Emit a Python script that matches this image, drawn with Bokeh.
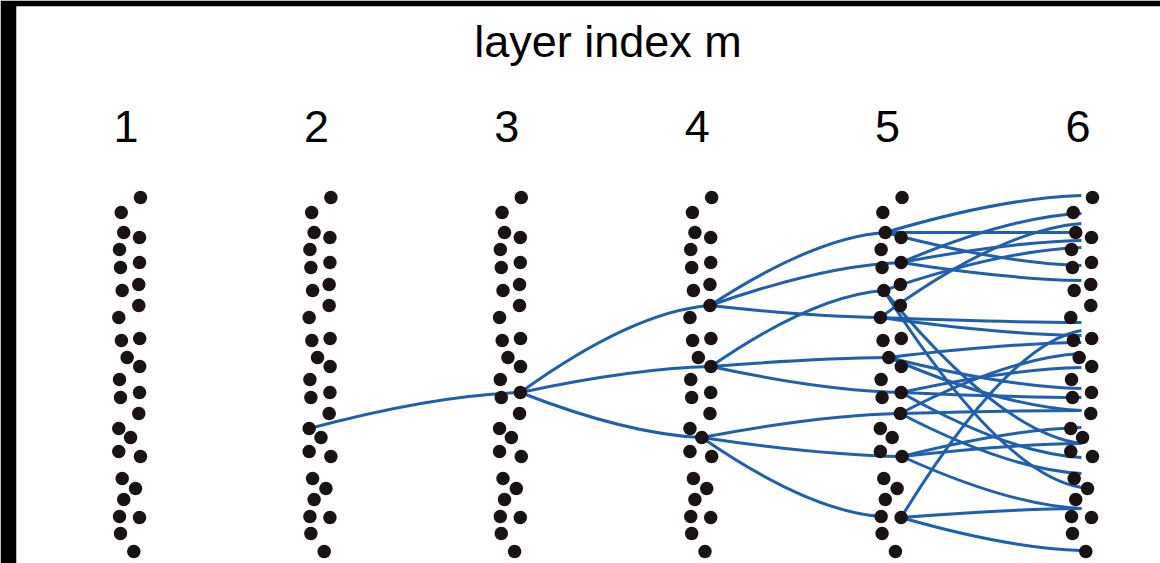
from bokeh.plotting import figure
from bokeh.models import Range1d
from bokeh.core.properties import value
from bokeh.embed import file_html
from bokeh.resources import INLINE

# ---- data ----
layers = [1, 2, 3, 4, 5, 6]
layer_labels = ["1", "2", "3", "4", "5", "6"]
title_text = "layer index m"

# neuron pattern (same in every layer): horizontal jitter (layer units) and vertical position
node_dx = [0.076, -0.025, -0.012, 0.071, -0.034, 0.071, -0.029, 0.067, -0.020, 0.067,
           -0.038, -0.024, 0.072, 0.006, 0.072, -0.034, -0.029, 0.071, 0.067, -0.038,
           0.024, -0.038, 0.076, -0.020, 0.050, -0.012, -0.034, 0.071, -0.029, 0.041]
node_y = [197, 212, 232, 237, 249, 262, 267, 284, 290, 305,
          317, 340, 338, 357, 366, 379, 397, 392, 413, 428,
          437, 451, 456, 478, 488, 499, 516, 517, 533, 551]

# connections between neurons: (source layer, source node, target layer, target node), 1-based
edge_src_layer = [2, 3, 3, 3, 4, 4, 4, 4, 4, 4, 4, 4, 4]
edge_src_node = [20, 18, 18, 18, 10, 10, 10, 15, 15, 15, 21, 21, 21]
edge_dst_layer = [3, 4, 4, 4, 5, 5, 5, 5, 5, 5, 5, 5, 5]
edge_dst_node = [18, 10, 15, 21, 3, 6, 11, 9, 14, 18, 19, 23, 27]

# layer 5 -> layer 6: source node in layer 5, end height at layer 6
l56_src = [3, 3, 3, 6, 6, 6, 9, 9, 9, 11, 11, 11, 14, 14, 14,
           18, 18, 18, 19, 19, 19, 23, 23, 23, 28, 28, 28]
l56_end_y = [195, 232, 265, 213, 240, 280, 247, 443, 487, 223, 322, 335, 342, 388, 410,
             367, 397, 457, 353, 410, 473, 427, 443, 508, 330, 508, 550]

# ---- figure ----
W, H = 1160, 563
p = figure(width=W, height=H, output_backend="svg", toolbar_location=None,
           x_range=Range1d(0.42489, 6.43330), y_range=Range1d(563, 6),
           min_border_left=16, min_border_right=0, min_border_top=6, min_border_bottom=0)
p.border_fill_color = "black"
p.background_fill_color = "white"
p.outline_line_color = None
p.axis.visible = False
p.grid.visible = False

# edges as cubic bezier curves
x0, y0, x1, y1 = [], [], [], []
for sl, sn, dl, dn in zip(edge_src_layer, edge_src_node, edge_dst_layer, edge_dst_node):
    x0.append(sl + node_dx[sn - 1]); y0.append(node_y[sn - 1])
    x1.append(dl + node_dx[dn - 1]); y1.append(node_y[dn - 1])
for sn, ey in zip(l56_src, l56_end_y):
    x0.append(5 + node_dx[sn - 1]); y0.append(node_y[sn - 1])
    x1.append(6 + 0.018); y1.append(ey)
cx0, cy0, cx1, cy1 = [], [], [], []
for a, b, c, d in zip(x0, y0, x1, y1):
    dx, dy = c - a, d - b
    cx0.append(a + dx * 0.35); cy0.append(b + dy * 0.55)
    cx1.append(a + dx * 0.7); cy1.append(b + dy * 0.95)
p.bezier(x0=x0, y0=y0, x1=x1, y1=y1, cx0=cx0, cy0=cy0, cx1=cx1, cy1=cy1,
         line_color="#1f5fae", line_width=3)

# neurons
nx, ny = [], []
for L in layers:
    for dxv, yv in zip(node_dx, node_y):
        nx.append(L + dxv); ny.append(yv)
p.scatter(nx, ny, size=13.5, fill_color="#1b1213", line_color=None)

# layer labels and title
p.text(x=layers, y=[126] * len(layers), text=layer_labels, text_align="center",
       text_baseline="alphabetic", text_font=value("Liberation Sans"),
       text_font_size="45px", text_color="black")
p.text(x=[sum(layers) / len(layers)], y=[41], text=[title_text], text_align="center",
       text_baseline="alphabetic", text_font=value("Liberation Sans"),
       text_font_size="45px", text_color="black", x_offset=6)

open("out.html", "w").write(file_html(p, INLINE))
